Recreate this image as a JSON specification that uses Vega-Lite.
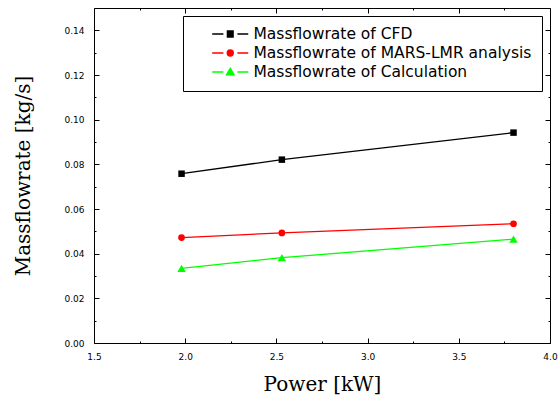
{
  "$schema": "https://vega.github.io/schema/vega-lite/v6.json",
  "width": 456,
  "height": 335,
  "autosize": {"type": "none"},
  "padding": {"left": 94, "top": 8, "right": 8, "bottom": 57},
  "background": "white",
  "config": {
    "view": {"stroke": null},
    "font": "Liberation Sans",
    "axis": {"grid": false, "domainColor": "black", "tickColor": "black", "labelColor": "black", "titleColor": "black", "domainWidth": 1, "tickWidth": 1},
    "legend": {
      "orient": "top-right", "offset": 8, "padding": 10,
      "strokeColor": "black", "fillColor": "white",
      "symbolSize": 196, "symbolOpacity": 1, "symbolStrokeWidth": 1.5,
      "labelFontSize": 15.5, "labelFont": "DejaVu Sans", "labelColor": "black", "labelOffset": 44.5, "labelLimit": 400,
      "rowPadding": 2
    }
  },
  "data": {
    "values": [
      {"series": "Massflowrate of CFD", "power": 1.98, "flow": 0.0758},
      {"series": "Massflowrate of CFD", "power": 2.53, "flow": 0.0821},
      {"series": "Massflowrate of CFD", "power": 3.8, "flow": 0.0942},
      {"series": "Massflowrate of MARS-LMR analysis", "power": 1.98, "flow": 0.0472},
      {"series": "Massflowrate of MARS-LMR analysis", "power": 2.53, "flow": 0.0493},
      {"series": "Massflowrate of MARS-LMR analysis", "power": 3.8, "flow": 0.0534},
      {"series": "Massflowrate of Calculation", "power": 1.98, "flow": 0.0334},
      {"series": "Massflowrate of Calculation", "power": 2.53, "flow": 0.0382},
      {"series": "Massflowrate of Calculation", "power": 3.8, "flow": 0.0465}
    ]
  },
  "resolve": {"axis": {"x": "independent", "y": "independent"}},
  "layer": [
    {
      "transform": [{"filter": "datum.series == 'Massflowrate of CFD'"}],
      "mark": {"type": "line", "strokeWidth": 1.3, "color": "#000000",
        "point": {"shape": "square", "size": 42, "filled": true, "color": "#000000"}},
      "encoding": {
        "x": {"field": "power", "type": "quantitative", "scale": {"domain": [1.5, 4.0], "nice": false, "zero": false},
          "axis": {"orient": "bottom", "values": [1.5, 1.75, 2.0, 2.25, 2.5, 2.75, 3.0, 3.25, 3.5, 3.75, 4.0],
            "labelExpr": "round(datum.value*4)%2==0 ? format(datum.value,'.1f') : ''",
            "tickSize": {"condition": {"test": "round(datum.value*4)%2==1", "value": -2}, "value": -5},
            "labelPadding": 14, "labelFontSize": 9, "labelFont": "DejaVu Sans", "labelFlush": false, "labelOverlap": false,
            "title": "Power [kW]", "titleFont": "DejaVu Serif", "titleFontSize": 20, "titleFontWeight": "normal", "titlePadding": 10}},
        "y": {"field": "flow", "type": "quantitative", "scale": {"domain": [0, 0.15], "nice": false},
          "axis": {"orient": "left", "values": [0, 0.01, 0.02, 0.03, 0.04, 0.05, 0.06, 0.07, 0.08, 0.09, 0.1, 0.11, 0.12, 0.13, 0.14],
            "labelExpr": "round(datum.value*100)%2==0 ? format(datum.value,'.2f') : ''",
            "tickSize": {"condition": {"test": "round(datum.value*100)%2==1", "value": -2}, "value": -5},
            "labelPadding": 15, "labelFontSize": 9, "labelFont": "DejaVu Sans", "labelFlush": false, "labelOverlap": false,
            "title": "Massflowrate [kg/s]", "titleFont": "DejaVu Serif", "titleFontSize": 20, "titleFontWeight": "normal", "titlePadding": 30}}
      }
    },
    {
      "transform": [{"filter": "datum.series == 'Massflowrate of MARS-LMR analysis'"}],
      "mark": {"type": "line", "strokeWidth": 1.3, "color": "#ff0000",
        "point": {"shape": "circle", "size": 45, "filled": true, "color": "#ff0000"}},
      "encoding": {
        "x": {"field": "power", "type": "quantitative",
          "axis": {"orient": "top", "values": [1.5, 1.75, 2.0, 2.25, 2.5, 2.75, 3.0, 3.25, 3.5, 3.75, 4.0], "labels": false, "title": null,
            "tickSize": {"condition": {"test": "round(datum.value*4)%2==1", "value": -2}, "value": -5}}},
        "y": {"field": "flow", "type": "quantitative",
          "axis": {"orient": "right", "values": [0, 0.01, 0.02, 0.03, 0.04, 0.05, 0.06, 0.07, 0.08, 0.09, 0.1, 0.11, 0.12, 0.13, 0.14], "labels": false, "title": null,
            "tickSize": {"condition": {"test": "round(datum.value*100)%2==1", "value": -2}, "value": -5}}}
      }
    },
    {
      "transform": [{"filter": "datum.series == 'Massflowrate of Calculation'"}],
      "mark": {"type": "line", "strokeWidth": 1.3, "color": "#00ff00",
        "point": {"shape": "triangle-up", "size": 70, "filled": true, "color": "#00ff00"}},
      "encoding": {
        "x": {"field": "power", "type": "quantitative", "axis": null},
        "y": {"field": "flow", "type": "quantitative", "axis": null}
      }
    },
    {
      "mark": {"type": "point", "filled": true, "opacity": 0, "size": 196},
      "encoding": {
        "x": {"field": "power", "type": "quantitative", "axis": null},
        "y": {"field": "flow", "type": "quantitative", "axis": null},
        "color": {"field": "series", "type": "nominal",
          "scale": {"domain": ["Massflowrate of CFD", "Massflowrate of MARS-LMR analysis", "Massflowrate of Calculation"], "range": ["#000000", "#ff0000", "#00ff00"]},
          "legend": {"title": null}},
        "stroke": {"field": "series", "type": "nominal",
          "scale": {"domain": ["Massflowrate of CFD", "Massflowrate of MARS-LMR analysis", "Massflowrate of Calculation"], "range": ["#000000", "#ff0000", "#00ff00"]},
          "legend": {"title": null}},
        "shape": {"field": "series", "type": "nominal",
          "scale": {"domain": ["Massflowrate of CFD", "Massflowrate of MARS-LMR analysis", "Massflowrate of Calculation"],
            "range": [
              "M1.6,0H3.2M5.2,0H6.75M3.78,-0.42H4.58V0.42H3.78Z",
              "M1.6,0H3.2M5.2,0H6.75M3.76,0A0.42,0.42 0 1,0 4.6,0A0.42,0.42 0 1,0 3.76,0Z",
              "M1.6,0H3.2M5.2,0H6.75M4.18,-0.5L4.7,0.4H3.66Z"
            ]},
          "legend": {"title": null}}
      }
    }
  ]
}
